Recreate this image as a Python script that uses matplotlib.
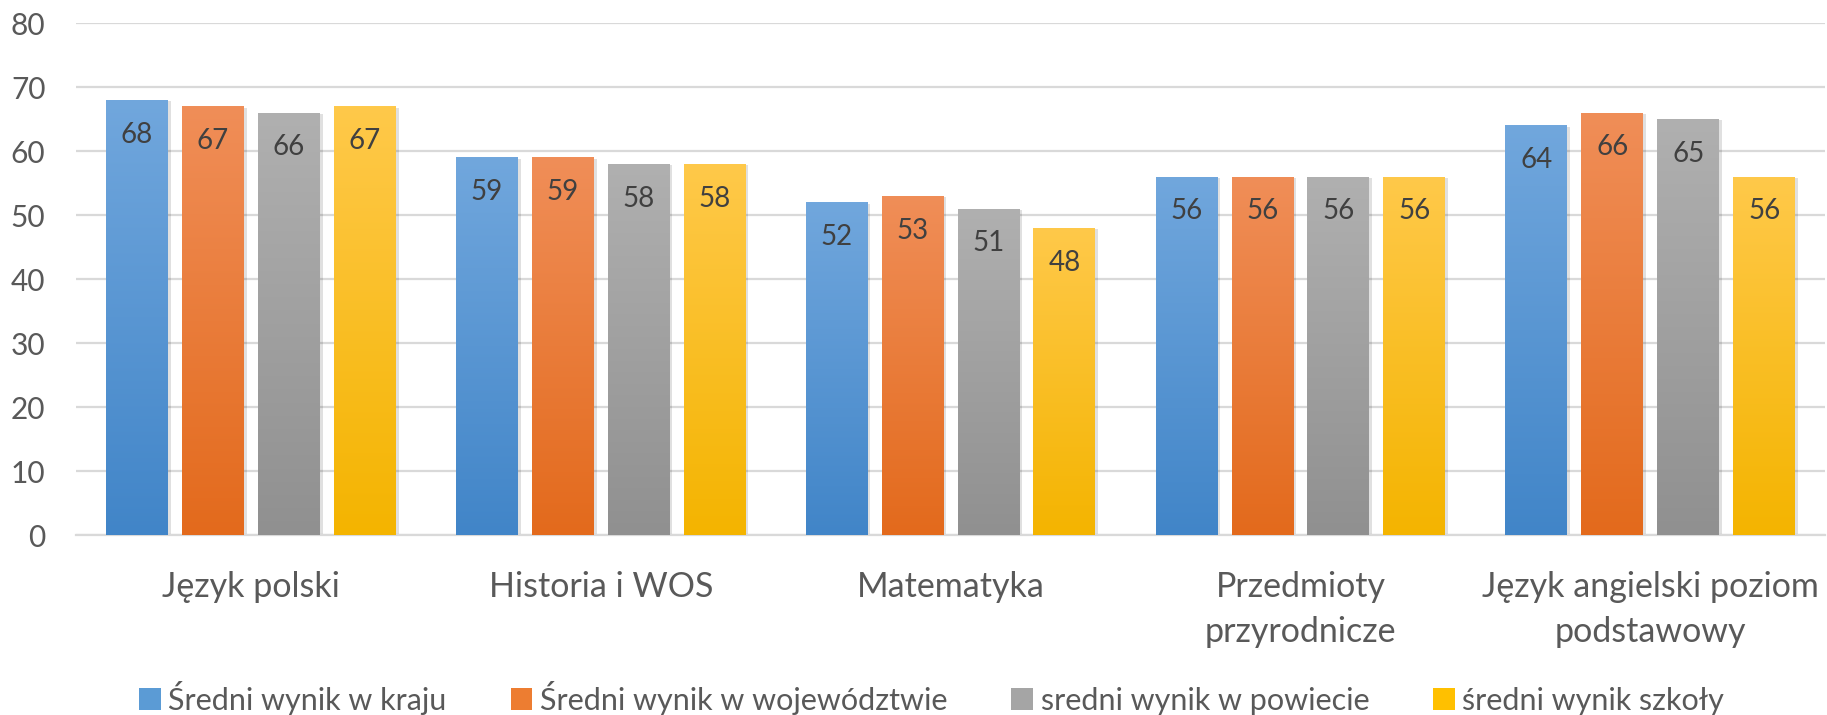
import numpy as np
import matplotlib
matplotlib.use("Agg")
import matplotlib.pyplot as plt
import matplotlib.patheffects as pe
from matplotlib.colors import LinearSegmentedColormap
from matplotlib.patches import Patch

plt.rcParams['font.family'] = ['Lato', 'DejaVu Sans']

# data
categories = ['Język polski', 'Historia i WOS', 'Matematyka',
              'Przedmioty\nprzyrodnicze', 'Język angielski poziom\npodstawowy']
series_names = ['Średni wynik w kraju', 'Średni wynik w województwie',
                'sredni wynik w powiecie', 'średni wynik szkoły']
kraj = [68, 59, 52, 56, 64]
wojewodztwo = [67, 59, 53, 56, 66]
powiat = [66, 58, 51, 56, 65]
szkola = [67, 58, 48, 56, 56]
series = [kraj, wojewodztwo, powiat, szkola]

# top (light) / bottom (dark) colours of the gradient fill
top_colors = ['#71a7dd', '#f08e58', '#b0b0b0', '#ffc94a']
bottom_colors = ['#4185c8', '#e36a1c', '#909090', '#f4b400']
mid_colors = ['#5b9bd5', '#ed7d31', '#a5a5a5', '#ffc000']

fig = plt.figure(figsize=(18.27, 7.15), dpi=100)
ax = fig.add_axes([0.0416, 0.2517, 0.9574, 0.7161])

x = np.arange(len(categories))
width = 0.177
pitch = 0.217
offsets = (np.arange(4) - 1.5) * pitch

grad = np.linspace(0, 1, 256).reshape(-1, 1)
shadow = [pe.SimplePatchShadow(offset=(2, -1), shadow_rgbFace='#000000', alpha=0.12),
          pe.Normal()]

for i, vals in enumerate(series):
    bars = ax.bar(x + offsets[i], vals, width, color=mid_colors[i], zorder=2,
                  path_effects=shadow)
    cmap = LinearSegmentedColormap.from_list('g%d' % i, [bottom_colors[i], top_colors[i]])
    for b, v in zip(bars, vals):
        x0, y0 = b.get_x(), b.get_y()
        im = ax.imshow(grad, cmap=cmap, origin='lower', aspect='auto',
                       extent=[x0, x0 + b.get_width(), y0, y0 + b.get_height()],
                       zorder=3)
        im.set_clip_path(b)
        ax.annotate(str(v), (b.get_x() + b.get_width() / 2, v),
                    xytext=(0, -25), textcoords='offset points',
                    ha='center', va='center', fontsize=20, color='#404040', zorder=4)

ax.set_xlim(-0.5, len(categories) - 0.5)
ax.set_ylim(0, 80)
ax.set_yticks(np.arange(0, 81, 10))
ax.set_xticks(x)
ax.set_xticklabels(categories, fontsize=24.5, color='#595959', linespacing=1.5)
ax.tick_params(axis='y', length=0, pad=22, labelsize=21.5, labelcolor='#595959')
ax.tick_params(axis='x', length=0, pad=26)
ax.yaxis.grid(True, color='#d9d9d9', linewidth=1.6, zorder=0)
ax.set_axisbelow(True)
for s in ['top', 'right', 'left']:
    ax.spines[s].set_visible(False)
ax.spines['bottom'].set_color('#d9d9d9')
ax.spines['bottom'].set_linewidth(1.6)

handles = [Patch(facecolor=mid_colors[i], label=series_names[i]) for i in range(4)]
fig.legend(handles=handles, loc='lower center', bbox_to_anchor=(0.51, -0.038),
           ncol=4, frameon=False, fontsize=22, labelcolor='#595959',
           handlelength=0.7, handleheight=0.72, handletextpad=0.25, columnspacing=2.1)

fig.savefig('out.png', dpi=100)
